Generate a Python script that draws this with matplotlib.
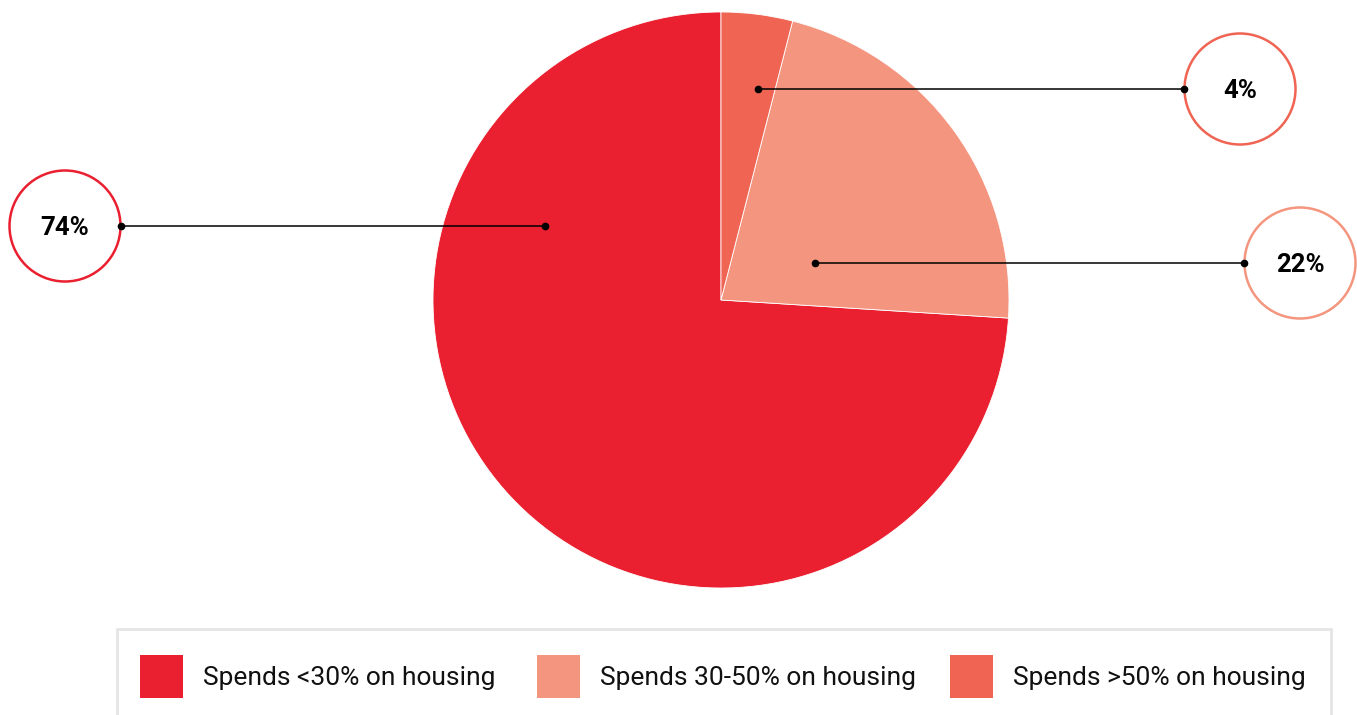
import matplotlib.pyplot as plt
from matplotlib.patches import Circle, Rectangle

plt.rcParams['font.family'] = ['Roboto', 'DejaVu Sans']

# housing cost burden shares
labels = ['Spends <30% on housing', 'Spends 30-50% on housing', 'Spends >50% on housing']
shares = [74, 22, 4]
colors = ['#EA1F2F', '#F4967F', '#EF6452']

W, H = 1357, 715
fig = plt.figure(figsize=(W / 100, H / 100), dpi=100)
ax = fig.add_axes([0, 0, 1, 1])

cx, cy, r = 721, H - 300, 288
ax.pie(shares, colors=colors, startangle=90, counterclock=True,
       center=(cx, cy), radius=r, frame=True,
       wedgeprops=dict(edgecolor='white', linewidth=0.6))
ax.set_xlim(0, W)
ax.set_ylim(0, H)
ax.set_aspect('equal')
ax.axis('off')

# callouts: (point on wedge, bubble centre, bubble edge x)
callouts = [
    ((545, 226), (65, 226), 121),
    ((815, 263), (1300, 263), 1244),
    ((758, 89), (1240, 89), 1184),
]
for (pt, ctr, edge_x), val, col in zip(callouts, shares, colors):
    px, py = pt[0], H - pt[1]
    ax.plot([px, edge_x], [py, py], color='black', lw=1.1, zorder=3)
    ax.plot([px, edge_x], [py, py], 'o', color='black', ms=4.5, zorder=4)
    ax.add_patch(Circle((ctr[0], H - ctr[1]), 55.5, facecolor='white',
                        edgecolor=col, lw=1.8, zorder=2))
    ax.text(ctr[0], H - ctr[1] - 2, f'{val}%', ha='center', va='center',
            fontsize=18.5, fontweight='bold', color='black', zorder=5)

# legend box
ax.add_patch(Rectangle((117, -10), 1214, H - 629 + 10, facecolor='white',
                       edgecolor='#E5E5E5', lw=2, zorder=1))
sq_x = [140, 537, 950]
for x0, lab, col in zip(sq_x, labels, colors):
    ax.add_patch(Rectangle((x0, H - 698), 43, 43, facecolor=col,
                           edgecolor='none', zorder=2))
    ax.text(x0 + 63, H - 678, lab, ha='left', va='center', fontsize=19,
            color='#111111', zorder=3)

fig.savefig('out.png', dpi=100)
